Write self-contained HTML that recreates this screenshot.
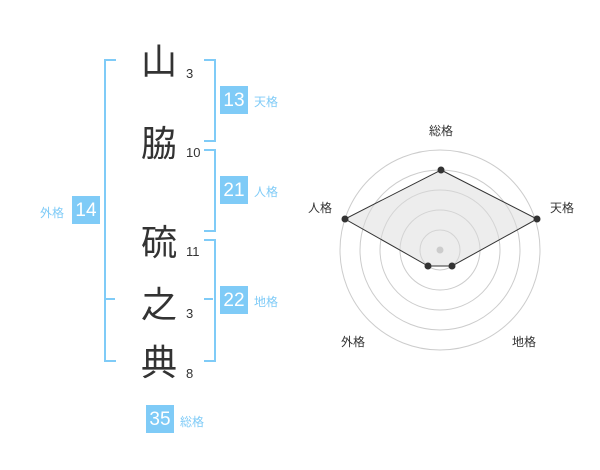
<!DOCTYPE html>
<html><head><meta charset="utf-8"><style>
body{margin:0;width:600px;height:470px;background:#fff;position:relative;overflow:hidden;font-family:"Liberation Sans","Noto Sans CJK JP",sans-serif}
.k{position:absolute;left:141px;font-size:36px;line-height:36px;color:#333;font-family:"Noto Sans CJK JP",sans-serif}
.n{position:absolute;font-size:13px;line-height:13px;color:#333}
.b{position:absolute;width:28px;height:28px;background:#7fcbf7;color:#fff;font-size:19px;line-height:29px;text-align:center}
.l{position:absolute;font-size:12px;line-height:12px;color:#7fcbf7;font-family:"Liberation Sans","Noto Sans CJK JP",sans-serif}
.v{position:absolute;border:2px solid #7fcbf7}
</style></head><body>
<div class="k" style="top:41px">山</div>
<div class="k" style="top:123px">脇</div>
<div class="k" style="top:222px">硫</div>
<div class="k" style="top:284px">之</div>
<div class="k" style="top:342px">典</div>
<div class="n" style="left:186px;top:67px">3</div>
<div class="n" style="left:186px;top:146px">10</div>
<div class="n" style="left:186px;top:245px">11</div>
<div class="n" style="left:186px;top:307px">3</div>
<div class="n" style="left:186px;top:367px">8</div>
<!-- left bracket -->
<div class="v" style="left:104px;top:59px;width:10px;height:299px;border-right:none"></div>
<div style="position:absolute;left:106px;top:298px;width:9px;height:2px;background:#7fcbf7"></div>
<!-- right brackets -->
<div class="v" style="left:204px;top:59px;width:10px;height:79px;border-left:none"></div>
<div class="v" style="left:204px;top:149px;width:10px;height:79px;border-left:none"></div>
<div class="v" style="left:204px;top:239px;width:10px;height:119px;border-left:none"></div>
<div style="position:absolute;left:204px;top:298px;width:9px;height:2px;background:#7fcbf7"></div>
<div class="b" style="left:220px;top:86px">13</div><div class="l" style="left:254px;top:96px">天格</div>
<div class="b" style="left:220px;top:176px">21</div><div class="l" style="left:254px;top:186px">人格</div>
<div class="b" style="left:220px;top:286px">22</div><div class="l" style="left:254px;top:296px">地格</div>
<div class="b" style="left:72px;top:196px">14</div><div class="l" style="left:40px;top:207px">外格</div>
<div class="b" style="left:146px;top:405px">35</div><div class="l" style="left:180px;top:416px">総格</div>
<svg style="position:absolute;left:0;top:0" width="600" height="470">
<g fill="none" stroke="#ccc" stroke-width="1">
<circle cx="440" cy="250" r="20"/><circle cx="440" cy="250" r="40"/><circle cx="440" cy="250" r="60"/><circle cx="440" cy="250" r="80"/><circle cx="440" cy="250" r="100"/>
</g>
<polygon points="441,170 537,219 452,266 428,266 345,219" fill="rgba(220,220,220,0.5)" stroke="#333" stroke-width="1"/>
<circle cx="440" cy="250" r="3.5" fill="#ccc"/>
<g fill="#333"><circle cx="441" cy="170" r="3.5"/><circle cx="537" cy="219" r="3.5"/><circle cx="452" cy="266" r="3.5"/><circle cx="428" cy="266" r="3.5"/><circle cx="345" cy="219" r="3.5"/></g>
<g font-size="12" fill="#333" font-family="Liberation Sans, Noto Sans CJK JP, sans-serif" text-anchor="middle">
<text x="441" y="135">総格</text><text x="562" y="212">天格</text><text x="320" y="212">人格</text><text x="353" y="346">外格</text><text x="524" y="346">地格</text>
</g>
</svg>
</body></html>
